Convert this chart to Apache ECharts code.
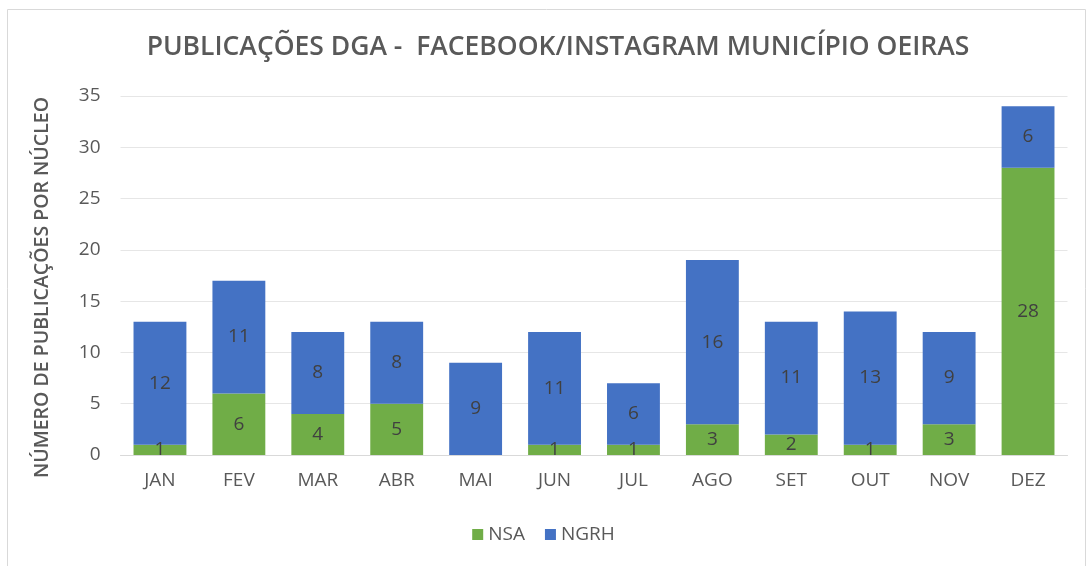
<!DOCTYPE html>
<html><head><meta charset="utf-8">
<script src="https://cdn.jsdelivr.net/npm/echarts@6/dist/echarts.min.js"></script>
<style>html,body{margin:0;padding:0;background:#fff}#c{width:1087px;height:566px}</style>
</head><body><div id="c"></div>
<script>
const categories = ['JAN','FEV','MAR','ABR','MAI','JUN','JUL','AGO','SET','OUT','NOV','DEZ'];
const nsa = [1,6,4,5,0,1,1,3,2,1,3,28];
const ngrh = [12,11,8,8,9,11,6,16,11,13,9,6];
const yTicks = [0,5,10,15,20,25,30,35];

const chart = echarts.init(document.getElementById('c'));
const lbl = {show:true, position:'inside', color:'#404040', fontSize:19, fontFamily:'Open Sans',
  formatter: p => p.value === 0 ? '' : p.value};
chart.setOption({
  animation:false,
  graphic:[{type:'rect', shape:{x:7.5,y:9.5,width:1078,height:560}, style:{fill:'none', stroke:'#d9d9d9', lineWidth:1}, silent:true}],
  title:{text:'PUBLICAÇÕES DGA -  FACEBOOK/INSTAGRAM MUNICÍPIO OEIRAS', left:553, textAlign:'center', top:29,
    textStyle:{color:'#595959', fontSize:26.5, fontWeight:600, fontFamily:'Open Sans'}},
  legend:{bottom:17, left:'center', itemWidth:11, itemHeight:11, itemGap:20, icon:'rect',
    textStyle:{color:'#595959', fontSize:19, fontFamily:'Open Sans'}, data:['NSA','NGRH']},
  grid:{left:120.5, right:19.5, top:96, bottom:111, containLabel:false},
  xAxis:{type:'category', data:categories,
    axisLine:{lineStyle:{color:'#d9d9d9', width:1}}, axisTick:{show:false},
    axisLabel:{color:'#595959', fontSize:19, margin:16, fontFamily:'Open Sans'}},
  yAxis:{type:'value', min:yTicks[0], max:yTicks[yTicks.length-1], interval:5,
    name:'NÚMERO DE PUBLICAÇÕES POR NÚCLEO', nameLocation:'middle', nameGap:68, nameRotate:90,
    nameTextStyle:{color:'#595959', fontSize:19.5, fontWeight:600, fontFamily:'Open Sans', padding:[0,24,0,0]},
    axisLine:{show:false}, axisTick:{show:false},
    axisLabel:{color:'#595959', fontSize:19, margin:20, fontFamily:'Open Sans'},
    splitLine:{lineStyle:{color:'#e6e6e6', width:1}}},
  series:[
    {name:'NSA', type:'bar', stack:'t', data:nsa, barWidth:'67%', itemStyle:{color:'#70AD47'}, label:lbl},
    {name:'NGRH', type:'bar', stack:'t', data:ngrh, barWidth:'67%', itemStyle:{color:'#4472C4'}, label:lbl}
  ]
});
</script></body></html>
